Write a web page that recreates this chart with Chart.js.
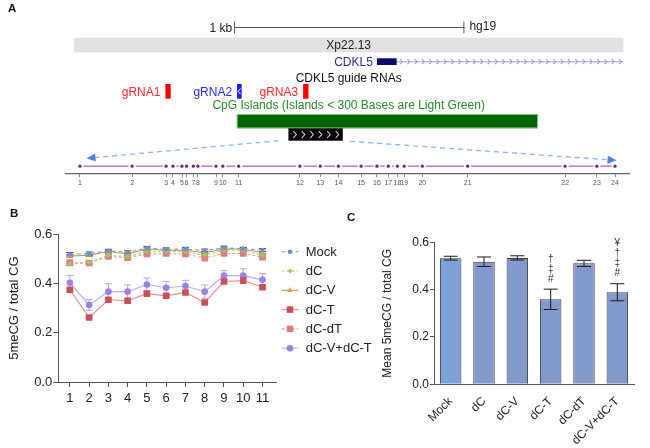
<!DOCTYPE html>
<html>
<head>
<meta charset="utf-8">
<script src="https://cdn.jsdelivr.net/npm/chart.js@4.4.1/dist/chart.umd.min.js"></script>
<style>
html,body{margin:0;padding:0;background:#fff;}
body{width:650px;height:448px;position:relative;overflow:hidden;font-family:"Liberation Sans",Arial,Helvetica,sans-serif;}
canvas{position:absolute;}
#ca{left:0;top:0;}
#cb{left:0;top:200px;}
#cc{left:370px;top:200px;}
.pl{position:absolute;font-weight:bold;font-size:11.5px;color:#111;line-height:14px;}
</style>
</head>
<body>
<canvas id="ca" width="650" height="200"></canvas>
<canvas id="cb" width="380" height="248"></canvas>
<canvas id="cc" width="280" height="248"></canvas>
<div class="pl" style="left:8px;top:1px;">A</div>
<div class="pl" style="left:10px;top:206px;">B</div>
<div class="pl" style="left:347px;top:210px;">C</div>
<script>
// ---------- Panel A: genome browser view (bp, relative to scale-bar start) ----------
const scaleBar = [0, 1000];
const scaleLabel = '1 kb';
const assembly = 'hg19';
const bandRange = [-695, 1690];
const bandName = 'Xp22.13';
const geneName = 'CDKL5';
const geneExon = [620, 706];
const geneEnd = 1690;
const guideTrackTitle = 'CDKL5 guide RNAs';
const gRNANames = ['gRNA1', 'gRNA2', 'gRNA3'];
const gRNAStart = [-298, 13, 300];
const gRNAEnd = [-275, 33, 323];
const gRNAStrand = ['+', '-', '+'];
const cpgTrackTitle = 'CpG Islands (Islands < 300 Bases are Light Green)';
const cpgIsland = [12, 1319];
const amplicon = [236, 472];
// CpG sites inside the amplicon (bp from first site)
const cpgSiteLabels = ['1','2','3','4','5','6','7','8','9','10','11','12','13','14','15','16','17','18','19','20','21','22','23','24'];
const cpgSitePos = [0, 23, 38, 41, 45, 47, 50, 52, 60, 63, 70, 97, 106, 114, 124, 131, 136, 140, 143, 151, 171, 214, 228, 236];

// ---------- Panel B: per-site methylation ----------
const siteLabels = ['1','2','3','4','5','6','7','8','9','10','11'];
const seriesNames = ['Mock', 'dC', 'dC-V', 'dC-T', 'dC-dT', 'dC-V+dC-T'];
const mockVals  = [0.519, 0.521, 0.533, 0.527, 0.543, 0.539, 0.540, 0.534, 0.545, 0.541, 0.536];
const dCVals    = [0.478, 0.486, 0.514, 0.509, 0.530, 0.530, 0.530, 0.515, 0.535, 0.535, 0.515];
const dCVVals   = [0.512, 0.515, 0.530, 0.520, 0.540, 0.535, 0.535, 0.525, 0.540, 0.540, 0.525];
const dCTVals   = [0.375, 0.262, 0.334, 0.330, 0.359, 0.350, 0.364, 0.323, 0.408, 0.412, 0.385];
const dCdTVals  = [0.485, 0.483, 0.510, 0.505, 0.520, 0.522, 0.520, 0.503, 0.522, 0.522, 0.507];
const dCVdCTVals= [0.403, 0.313, 0.367, 0.367, 0.396, 0.383, 0.390, 0.367, 0.432, 0.432, 0.415];
const mockErr   = [0.007, 0.007, 0.006, 0.006, 0.008, 0.006, 0.007, 0.006, 0.007, 0.006, 0.006];
const dCErr     = [0.005, 0.005, 0.005, 0.005, 0.005, 0.005, 0.005, 0.005, 0.005, 0.005, 0.005];
const dCVErr    = [0.005, 0.005, 0.005, 0.005, 0.005, 0.005, 0.005, 0.005, 0.005, 0.005, 0.005];
const dCTErr    = [0.006, 0.005, 0.006, 0.006, 0.006, 0.006, 0.006, 0.006, 0.008, 0.012, 0.006];
const dCdTErr   = [0.006, 0.006, 0.006, 0.006, 0.006, 0.006, 0.006, 0.006, 0.006, 0.006, 0.006];
const dCVdCTErr = [0.030, 0.022, 0.032, 0.027, 0.027, 0.025, 0.023, 0.027, 0.020, 0.028, 0.025];
const yTicksB = [0, 0.2, 0.4, 0.6];

// ---------- Panel C: mean methylation ----------
const groupNames = ['Mock', 'dC', 'dC-V', 'dC-T', 'dC-dT', 'dC-V+dC-T'];
const meanVals = [0.533, 0.518, 0.534, 0.359, 0.511, 0.389];
const meanErr  = [0.008, 0.020, 0.009, 0.043, 0.013, 0.036];
const sigMarks = ['', '', '', '†‡#', '', '¥†‡#'];

const FONT = '"Liberation Sans", Arial, Helvetica, sans-serif';
Chart.defaults.font.family = FONT;
Chart.defaults.color = '#222';

function seg(ctx, x1, y1, x2, y2) { ctx.beginPath(); ctx.moveTo(x1, y1); ctx.lineTo(x2, y2); ctx.stroke(); }
function arrowHead(ctx, x1, y1, x2, y2, len, half) {
  const a = Math.atan2(y2 - y1, x2 - x1);
  const bx = x2 - len * Math.cos(a), by = y2 - len * Math.sin(a);
  ctx.beginPath();
  ctx.moveTo(x2, y2);
  ctx.lineTo(bx + half * Math.sin(a), by - half * Math.cos(a));
  ctx.lineTo(bx - half * Math.sin(a), by + half * Math.cos(a));
  ctx.closePath(); ctx.fill();
}

// ---------------- Panel A ----------------
const browserPlugin = {
  id: 'browser',
  beforeDatasetsDraw(chart) {
    const ctx = chart.ctx;
    const G = v => chart.scales.xg.getPixelForValue(v);
    const C = v => chart.scales.x.getPixelForValue(v);
    const trackY = chart.scales.y.getPixelForValue(0);
    ctx.save();
    ctx.font = '12px ' + FONT;
    ctx.textBaseline = 'alphabetic';
    // scale bar
    const s0 = G(scaleBar[0]), s1 = G(scaleBar[1]);
    ctx.strokeStyle = '#555'; ctx.lineWidth = 1;
    seg(ctx, s0, 27.5, s1, 27.5); seg(ctx, s0 + 0.5, 21.5, s0 + 0.5, 33.5); seg(ctx, s1 - 0.5, 21.5, s1 - 0.5, 33.5);
    ctx.fillStyle = '#222';
    ctx.textAlign = 'right'; ctx.fillText(scaleLabel, s0 - 2, 32.3);
    ctx.textAlign = 'left'; ctx.fillText(assembly, s1 + 5, 30);
    // cytoband
    const b0 = G(bandRange[0]), b1 = G(bandRange[1]);
    const mid = (b0 + b1) / 2;
    ctx.fillStyle = '#e1e1e1'; ctx.fillRect(b0, 37.7, b1 - b0, 14.6);
    ctx.fillStyle = '#222'; ctx.textAlign = 'center'; ctx.fillText(bandName, mid, 49.3);
    // gene
    const e0 = G(geneExon[0]), e1 = G(geneExon[1]), ge = G(geneEnd);
    ctx.strokeStyle = '#a29edb'; ctx.lineWidth = 1.1;
    seg(ctx, e1, 61.7, ge, 61.7);
    for (let x = e1 + 5; x <= ge; x += 7.3) {
      ctx.beginPath(); ctx.moveTo(x - 1.6, 59.2); ctx.lineTo(x + 0.8, 61.7); ctx.lineTo(x - 1.6, 64.2); ctx.stroke();
    }
    ctx.fillStyle = '#0b0b6b'; ctx.fillRect(e0, 58.3, e1 - e0, 6.7);
    ctx.fillStyle = '#2d2d8f'; ctx.textAlign = 'right'; ctx.fillText(geneName, e0 - 4, 65.7);
    // guide RNA track
    ctx.fillStyle = '#111'; ctx.textAlign = 'center'; ctx.fillText(guideTrackTitle, mid, 81.5);
    gRNANames.forEach((n, i) => {
      const a = G(gRNAStart[i]), b = G(gRNAEnd[i]);
      const col = gRNAStrand[i] === '+' ? '#ff0000' : '#1c1cff';
      ctx.fillStyle = col; ctx.fillRect(a, 84, b - a, 14.7);
      ctx.fillStyle = gRNAStrand[i] === '+' ? '#ff2a2a' : '#2a2aff';
      ctx.textAlign = 'right'; ctx.fillText(n, a - 5, 96);
      if (gRNAStrand[i] === '-') {
        const cx = (a + b) / 2;
        ctx.strokeStyle = '#fff'; ctx.lineWidth = 1;
        ctx.beginPath(); ctx.moveTo(cx + 1.2, 88.5); ctx.lineTo(cx - 1.2, 91.3); ctx.lineTo(cx + 1.2, 94.1); ctx.stroke();
      }
    });
    // CpG island track
    ctx.fillStyle = '#2b8a2b'; ctx.textAlign = 'center'; ctx.fillText(cpgTrackTitle, mid, 109);
    const c0 = G(cpgIsland[0]), c1 = G(cpgIsland[1]);
    ctx.fillStyle = '#006400'; ctx.fillRect(c0, 114, c1 - c0, 14.3);
    ctx.strokeStyle = '#9fd09f'; ctx.lineWidth = 0.8; ctx.strokeRect(c0 + 0.4, 114.4, c1 - c0 - 0.8, 13.5);
    // amplicon box
    const a0 = G(amplicon[0]), a1 = G(amplicon[1]);
    ctx.fillStyle = '#000'; ctx.fillRect(a0, 128.3, a1 - a0, 12.4);
    ctx.strokeStyle = '#dcdcdc'; ctx.lineWidth = 1.1;
    const step = (a1 - a0 - 12) / 5;
    for (let k = 0; k < 6; k++) {
      const x = a0 + 6.5 + k * step;
      ctx.beginPath(); ctx.moveTo(x - 1.6, 131); ctx.lineTo(x + 1.4, 134.5); ctx.lineTo(x - 1.6, 138); ctx.stroke();
    }
    // zoom arrows
    ctx.strokeStyle = '#92b3ec'; ctx.fillStyle = '#4f82d8'; ctx.lineWidth = 1.3;
    ctx.setLineDash([5, 4]);
    const lx0 = a0 - 10, ly0 = 140.7, lx1 = C(cpgSitePos[0]) + 6.5, ly1 = 158.3;
    const rx0 = a1 + 7.5, ry0 = 141.3, rx1 = C(cpgSitePos[cpgSitePos.length - 1]) + 1.5, ry1 = 160.3;
    seg(ctx, lx0, ly0, lx1 + 8, ly1 - 0.7);
    seg(ctx, rx0, ry0, rx1 - 8, ry1 - 0.5);
    ctx.setLineDash([]);
    arrowHead(ctx, lx0, ly0, lx1, ly1, 9, 4);
    arrowHead(ctx, rx0, ry0, rx1, ry1, 9, 4);
    // CpG track line with gaps around sites
    ctx.strokeStyle = '#b77cc8'; ctx.lineWidth = 1.5;
    for (let i = 0; i < cpgSitePos.length - 1; i++) {
      const p = C(cpgSitePos[i]) + 3.5, q = C(cpgSitePos[i + 1]) - 3.5;
      if (q - p > 1) seg(ctx, p, trackY, q, trackY);
    }
    ctx.restore();
  }
};

new Chart(document.getElementById('ca'), {
  type: 'scatter',
  data: {
    datasets: [{
      data: cpgSitePos.map(p => ({ x: p, y: 0 })),
      xAxisID: 'x', yAxisID: 'y',
      pointRadius: 1.6, pointBackgroundColor: '#6d2380', pointBorderWidth: 0
    }]
  },
  options: {
    animation: false, responsive: false, devicePixelRatio: 1, events: [],
    plugins: { legend: { display: false }, tooltip: { enabled: false } },
    layout: { padding: { left: 65.7, right: 20.7, top: 0, bottom: 0 } },
    scales: {
      x: {
        type: 'linear', position: 'bottom', min: -6.3, max: 242.3,
        afterBuildTicks: s => { s.ticks = cpgSitePos.map(v => ({ value: v })); },
        afterFit: s => { s.height = 26.7; },
        ticks: { autoSkip: false, maxRotation: 0, minRotation: 0, font: { size: 7 }, color: '#555', padding: 2,
                 callback: (v, i) => cpgSiteLabels[i] },
        grid: { display: true, drawOnChartArea: false, drawTicks: true, tickLength: 4, color: '#888' },
        border: { display: true, color: '#666', width: 1.3 }
      },
      xg: { type: 'linear', position: 'top', display: false, min: -731, max: 1716 },
      y: { type: 'linear', display: false, min: -1, max: 22.75 }
    }
  },
  plugins: [browserPlugin]
});

// ---------------- Panel B ----------------
const seriesVals = [mockVals, dCVals, dCVVals, dCTVals, dCdTVals, dCVdCTVals];
const seriesErr = [mockErr, dCErr, dCVErr, dCTErr, dCdTErr, dCVdCTErr];
const lineStyles = [
  { line: '#7c9fdb', point: '#6b8fd3', dash: [4, 3], style: 'circle', r: 2.3, err: '#444' },
  { line: '#a8d56e', point: '#9ccc5a', dash: [3, 2], style: 'rectRot', r: 2.6, err: '#666' },
  { line: '#c4914f', point: '#dba35c', dash: [], style: 'triangle', r: 3.3, err: '#555' },
  { line: '#ef8c90', point: '#c9505a', dash: [], style: 'rect', r: 4.6, err: '#d86b72' },
  { line: '#eba1a3', point: '#e07c80', dash: [3, 2], style: 'rect', r: 4.6, err: '#e38a8e' },
  { line: '#bba8f0', point: '#9b82e2', dash: [], style: 'circle', r: 3.3, err: '#b5a1ee' }
];

function drawMarker(ctx, style, r, x, y, color) {
  ctx.fillStyle = color;
  ctx.beginPath();
  if (style === 'circle') { ctx.arc(x, y, r, 0, Math.PI * 2); }
  else if (style === 'rect') { const s = r * Math.SQRT1_2; ctx.rect(x - s, y - s, 2 * s, 2 * s); }
  else if (style === 'rectRot') { ctx.moveTo(x, y - r); ctx.lineTo(x + r, y); ctx.lineTo(x, y + r); ctx.lineTo(x - r, y); ctx.closePath(); }
  else if (style === 'triangle') { ctx.moveTo(x, y - r); ctx.lineTo(x + r * 0.866, y + r * 0.5); ctx.lineTo(x - r * 0.866, y + r * 0.5); ctx.closePath(); }
  ctx.fill();
}

const lineErrPlugin = {
  id: 'lineErr',
  beforeDatasetsDraw(chart) {
    const ctx = chart.ctx, ys = chart.scales.y;
    ctx.save();
    seriesVals.forEach((vals, i) => {
      const meta = chart.getDatasetMeta(i);
      ctx.strokeStyle = lineStyles[i].err; ctx.lineWidth = 1;
      vals.forEach((v, j) => {
        const x = meta.data[j].x, t = ys.getPixelForValue(v + seriesErr[i][j]), b = ys.getPixelForValue(v - seriesErr[i][j]);
        seg(ctx, x, t, x, b); seg(ctx, x - 3.5, t, x + 3.5, t); seg(ctx, x - 3.5, b, x + 3.5, b);
      });
    });
    ctx.restore();
  },
  afterDraw(chart) {
    const ctx = chart.ctx;
    ctx.save();
    ctx.font = '13px ' + FONT; ctx.textBaseline = 'middle'; ctx.textAlign = 'left';
    seriesNames.forEach((n, i) => {
      const y = 51.7 + i * 19.3, st = lineStyles[i];
      ctx.strokeStyle = st.line; ctx.lineWidth = 1.1; ctx.setLineDash(st.dash);
      seg(ctx, 281.7, y, 298.3, y);
      ctx.setLineDash([]);
      drawMarker(ctx, st.style, st.r, 290, y, st.point);
      ctx.fillStyle = '#222'; ctx.fillText(n, 305.7, y + 0.5);
    });
    ctx.restore();
  }
};

new Chart(document.getElementById('cb'), {
  type: 'line',
  data: {
    datasets: seriesVals.map((vals, i) => ({
      label: seriesNames[i],
      data: vals.map((v, j) => ({ x: j + 1, y: v })),
      borderColor: lineStyles[i].line, borderWidth: 1.1, borderDash: lineStyles[i].dash,
      pointStyle: lineStyles[i].style, pointRadius: lineStyles[i].r,
      pointBackgroundColor: lineStyles[i].point, pointBorderWidth: 0,
      tension: 0, fill: false
    }))
  },
  options: {
    animation: false, responsive: false, devicePixelRatio: 1, events: [],
    plugins: { legend: { display: false }, tooltip: { enabled: false } },
    layout: { padding: { left: 0, right: 104, top: 34.3, bottom: 36 } },
    scales: {
      x: {
        type: 'linear', min: 0.4, max: 11.7,
        afterBuildTicks: s => { s.ticks = siteLabels.map((l, i) => ({ value: i + 1 })); },
        afterFit: s => { s.height = 30; },
        ticks: { autoSkip: false, maxRotation: 0, font: { size: 13 }, color: '#222', padding: 4,
                 callback: (v, i) => siteLabels[i] },
        grid: { display: true, drawOnChartArea: false, tickLength: 5, color: '#555' },
        border: { display: true, color: '#555', width: 1 }
      },
      y: {
        type: 'linear', min: 0, max: 0.6,
        afterBuildTicks: s => { s.ticks = yTicksB.map(v => ({ value: v })); },
        afterFit: s => { s.width = 58.3; },
        ticks: { font: { size: 13 }, color: '#222', padding: 1, callback: v => v.toFixed(1) },
        grid: { display: true, drawOnChartArea: false, tickLength: 5, color: '#555' },
        border: { display: true, color: '#555', width: 1 },
        title: { display: true, text: '5meCG / total CG', font: { size: 13 }, color: '#222', padding: { top: 7, bottom: 0 } }
      }
    }
  },
  plugins: [lineErrPlugin]
});

// ---------------- Panel C ----------------
const barErrPlugin = {
  id: 'barErr',
  afterDatasetsDraw(chart) {
    const ctx = chart.ctx, ys = chart.scales.y, meta = chart.getDatasetMeta(0);
    ctx.save();
    ctx.strokeStyle = '#1a1a1a'; ctx.lineWidth = 1;
    meanVals.forEach((v, i) => {
      const x = meta.data[i].x, t = ys.getPixelForValue(v + meanErr[i]), b = ys.getPixelForValue(v - meanErr[i]);
      seg(ctx, x, t, x, b); seg(ctx, x - 7, t, x + 7, t); seg(ctx, x - 7, b, x + 7, b);
      const marks = Array.from(sigMarks[i]);
      ctx.fillStyle = '#333'; ctx.font = '10px ' + FONT; ctx.textAlign = 'center'; ctx.textBaseline = 'middle';
      marks.reverse().forEach((m, k) => { ctx.fillText(m, x, t - 10 - k * 10); });
    });
    ctx.restore();
  }
};

new Chart(document.getElementById('cc'), {
  type: 'bar',
  data: {
    labels: groupNames,
    datasets: [{
      data: meanVals,
      backgroundColor: groupNames.map((g, i) => i === 0 ? '#7ba1d7' : '#8399cb'),
      borderColor: '#3a3a3a', borderWidth: 1,
      barPercentage: 0.645, categoryPercentage: 1
    }]
  },
  options: {
    animation: false, responsive: false, devicePixelRatio: 1, events: [],
    plugins: { legend: { display: false }, tooltip: { enabled: false } },
    layout: { padding: { left: 0, right: 16, top: 42.3, bottom: 3.7 } },
    scales: {
      x: {
        afterFit: s => { s.height = 60; },
        ticks: { autoSkip: false, maxRotation: 45, minRotation: 45, font: { size: 12 }, color: '#222', padding: 2 },
        grid: { display: false },
        border: { display: true, color: '#555', width: 1 }
      },
      y: {
        type: 'linear', min: 0, max: 0.6,
        afterBuildTicks: s => { s.ticks = yTicksB.map(v => ({ value: v })); },
        afterFit: s => { s.width = 64; },
        ticks: { font: { size: 12 }, color: '#222', padding: 1, callback: v => v.toFixed(1) },
        grid: { display: true, drawOnChartArea: false, tickLength: 4, color: '#555' },
        border: { display: true, color: '#555', width: 1 },
        title: { display: true, text: 'Mean 5meCG / total CG', font: { size: 12 }, color: '#222', padding: { top: 10, bottom: 0 } }
      }
    }
  },
  plugins: [barErrPlugin]
});
</script>
</body>
</html>
